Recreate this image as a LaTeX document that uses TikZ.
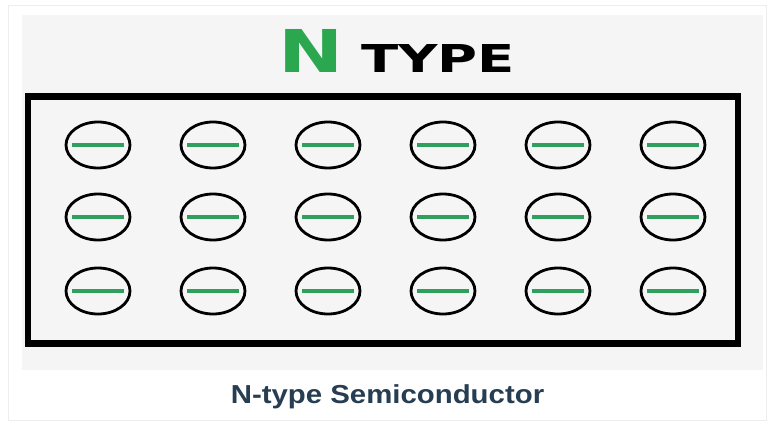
\documentclass[tikz,border=0pt]{standalone}
\usepackage{fontspec}
\usetikzlibrary{shapes.geometric}
\newfontfamily\titlefont{DejaVu Sans}
\newfontfamily\capfont{Liberation Sans}
\definecolor{ngreen}{HTML}{2BA84F}
\definecolor{bargreen}{HTML}{2F9F5E}
\definecolor{panel}{HTML}{F5F5F5}
\definecolor{cardedge}{HTML}{EDEDED}
\definecolor{capblue}{HTML}{273D52}
\begin{document}
\begin{tikzpicture}[x=1pt,y=-1pt,
  carrier/.style={ellipse, draw=black, line width=2.8pt, minimum width=64pt, minimum height=46pt, inner sep=0pt},
  bar/.style={draw=bargreen, line width=4.8pt},
  frame/.style={draw=black, line width=6.5pt, minimum width=710pt, minimum height=247pt, inner sep=0pt}]
\useasboundingbox (0,0) rectangle (773,422);
\fill[white] (0,0) rectangle (773,422);
\draw[cardedge, fill=white, line width=0.8pt] (8,5) rectangle (766,420);
\fill[panel] (22,15) rectangle (763,370);
% title
\node[anchor=base west, inner sep=0pt, text=ngreen] (tn) at (278,73)
  {\scalebox{1.32}[1]{\fontsize{59}{59}\titlefont\bfseries N}};
\node[anchor=base west, inner sep=0pt, text=black] (tt) at (361,73)
  {\scalebox{1.42}[1]{\fontsize{38.4}{38.4}\titlefont\bfseries TYPE}};
% frame
\node[frame] (box) at (382.75,220) {};
% carriers
\foreach \c in {0,...,5}{
  \foreach \r/\y in {0/145,1/217,2/291}{
    \node[carrier] (e\r\c) at (98+115*\c,\y) {};
    \draw[bar] ([xshift=7.5pt]e\r\c.west) -- ([xshift=-7.5pt]e\r\c.east);
  }
}
% caption
\node[anchor=base, inner sep=0pt, text=capblue] (cap) at (387.5,403)
  {\scalebox{1.13}[1]{\fontsize{26}{26}\capfont\bfseries N-type Semiconductor}};
\end{tikzpicture}
\end{document}
